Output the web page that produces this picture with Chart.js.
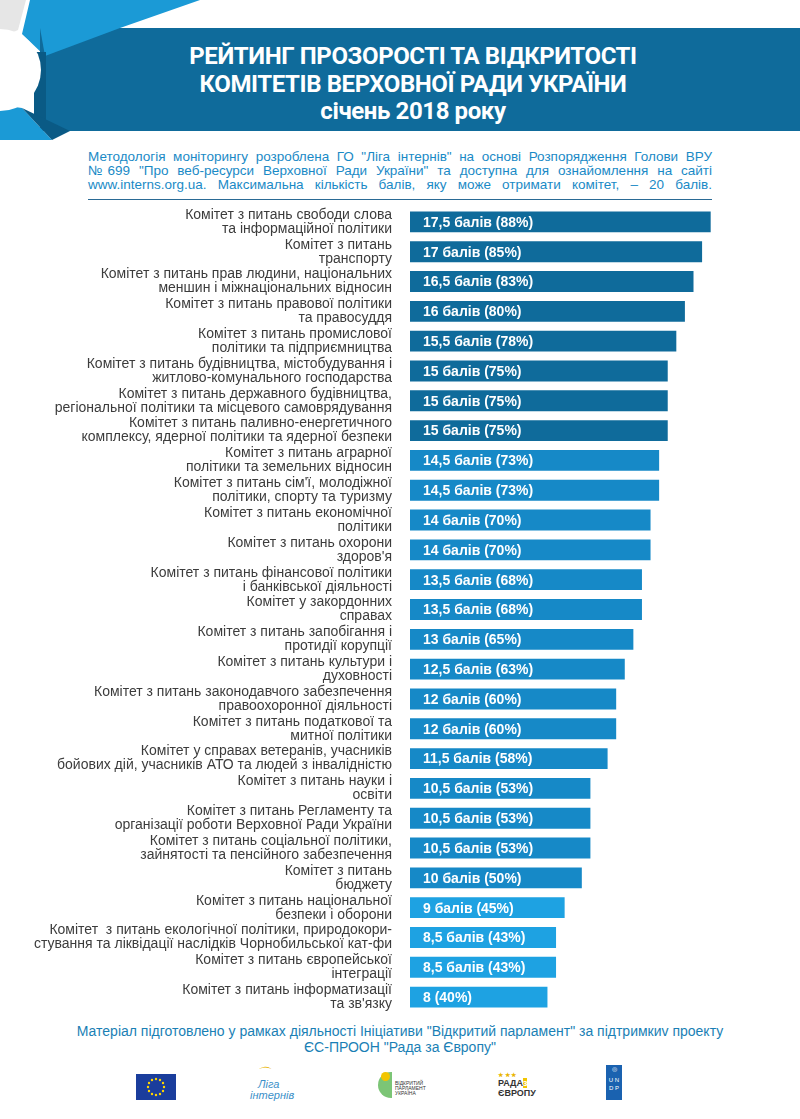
<!DOCTYPE html>
<html>
<head>
<meta charset="utf-8">
<script src="https://cdn.jsdelivr.net/npm/chart.js@4"></script>
<style>
  body { margin: 0; background: #fff; width: 800px; height: 1119px; position: relative; overflow: hidden; font-family: "Liberation Sans", sans-serif; }
  #header { position: absolute; left: 0; top: 0; }
  .title { position: absolute; left: 13px; width: 800px; text-align: center; color: #fff; font-family: Roboto, sans-serif; font-weight: 700; font-size: 24px; letter-spacing: -0.4px; }
  #intro { position: absolute; left: 88px; top: 150px; width: 624px; color: #1a8ac6; font-size: 13.5px; line-height: 14px; }
  #intro div { text-align: justify; text-align-last: justify; white-space: nowrap; }
  #rule { position: absolute; left: 88px; top: 199px; width: 624px; height: 1px; background: #2a6a95; }
  #wrap { position: absolute; left: 0; top: 200px; width: 800px; height: 820px; }
  #foot { position: absolute; left: 0; top: 1023px; width: 800px; text-align: center; color: #1a7fb5; font-size: 14px; line-height: 16px; }
  .logo { position: absolute; }
</style>
</head>
<body>
<svg id="header" width="800" height="145">
  <rect x="0" y="0" width="800" height="145" fill="#fff"/>
  <polygon points="0,0 26,0 18,30 0,38" fill="#e6e6e6"/>
  <polygon points="30,0 200,0 120,28 45,56 22,34" fill="#1b9ad6"/>
  <rect x="40" y="28" width="760" height="103" fill="#0f6b9b"/>
  <polygon points="40,28 120,28 45,56" fill="#1b9ad6"/>
  <polygon points="34,52 46,52 46,131 34,120" fill="#0a5a85"/>
  <polygon points="0,105 22,108 52,140 0,140" fill="#1b9ad6"/>
  <polygon points="22,108 70,131 52,140" fill="#0a5a85"/>
  <circle cx="0" cy="70" r="41" fill="#fff"/>
</svg>
<div class="title" style="top:42px">РЕЙТИНГ ПРОЗОРОСТІ ТА ВІДКРИТОСТІ</div>
<div class="title" style="top:70px">КОМІТЕТІВ ВЕРХОВНОЇ РАДИ УКРАЇНИ</div>
<div class="title" style="top:97px">січень 2018 року</div>
<div id="intro">
  <div>Методологія моніторингу розроблена ГО "Ліга інтернів" на основі Розпорядження Голови ВРУ</div>
  <div>№699 "Про веб-ресурси Верховної Ради України" та доступна для ознайомлення на сайті</div>
  <div>www.interns.org.ua. Максимальна кількість балів, яку може отримати комітет, – 20 балів.</div>
</div>
<div id="rule"></div>
<div id="wrap"><canvas id="chart"></canvas></div>
<div id="foot">Матеріал підготовлено у рамках діяльності Ініціативи "Відкритий парламент" за підтримкиv проекту<br>ЄС-ПРООН "Рада за Європу"</div>

<svg class="logo" style="left:136px;top:1074px" width="40" height="26">
  <rect width="40" height="26" fill="#1a3d9c"/>
  <g fill="#ffd700">
    <circle cx="20" cy="5" r="1.2"/><circle cx="24" cy="6" r="1.2"/><circle cx="27" cy="9" r="1.2"/><circle cx="28" cy="13" r="1.2"/>
    <circle cx="27" cy="17" r="1.2"/><circle cx="24" cy="20" r="1.2"/><circle cx="20" cy="21" r="1.2"/><circle cx="16" cy="20" r="1.2"/>
    <circle cx="13" cy="17" r="1.2"/><circle cx="12" cy="13" r="1.2"/><circle cx="13" cy="9" r="1.2"/><circle cx="16" cy="6" r="1.2"/>
  </g>
</svg>
<div class="logo" style="left:250px;top:1068px;width:50px;height:34px;font-size:11px;color:#3a8fc8;font-style:italic;line-height:11px">
  <div style="color:#e9b500;font-size:14px;margin-left:6px">⌒</div>
  <div style="margin-left:8px">Ліга</div><div>інтернів</div>
</div>
<div class="logo" style="left:378px;top:1072px;width:48px;height:30px">
  <div style="position:absolute;left:0;top:0;width:14px;height:26px;border-radius:14px 0 0 14px;background:#7cc576"></div>
  <div style="position:absolute;left:3px;top:0;width:9px;height:9px;border-radius:5px;background:#f2c500"></div>
  <div style="position:absolute;left:17px;top:9px;font-size:5px;line-height:5px;color:#333">ВІДКРИТИЙ<br>ПАРЛАМЕНТ<br>УКРАЇНА</div>
</div>
<div class="logo" style="left:498px;top:1072px;width:38px;height:30px;font-size:9px;line-height:10px;color:#333;font-weight:bold">
  <div style="color:#e9b500;font-size:6px;line-height:6px">★ ★ ★</div>
  РАДА<span style="background:#f2c500;color:#fff">з</span><br>ЄВРОПУ
</div>
<div class="logo" style="left:606px;top:1065px;width:16px;height:35px;background:#1a62b0;color:#fff;font-size:6px;line-height:8px;text-align:center">
  <div style="height:11px">◎</div>U N<br>D P
</div>

<script>
const committees = [
  ['Комітет з питань свободи слова', 'та інформаційної політики'],
  ['Комітет з питань', 'транспорту'],
  ['Комітет з питань прав людини, національних', 'меншин і міжнаціональних відносин'],
  ['Комітет з питань правової політики', 'та правосуддя'],
  ['Комітет з питань промислової', 'політики та підприємництва'],
  ['Комітет з питань будівництва, містобудування і', 'житлово-комунального господарства'],
  ['Комітет з питань державного будівництва,', 'регіональної політики та місцевого самоврядування'],
  ['Комітет з питань паливно-енергетичного', 'комплексу, ядерної політики та ядерної безпеки'],
  ['Комітет з питань аграрної', 'політики та земельних відносин'],
  ["Комітет з питань сім'ї, молодіжної", 'політики, спорту та туризму'],
  ['Комітет з питань економічної', 'політики'],
  ['Комітет з питань охорони', "здоров'я"],
  ['Комітет з питань фінансової політики', 'і банківської діяльності'],
  ['Комітет у закордонних', 'справах'],
  ['Комітет з питань запобігання і', 'протидії корупції'],
  ['Комітет з питань культури і', 'духовності'],
  ['Комітет з питань законодавчого забезпечення', 'правоохоронної діяльності'],
  ['Комітет з питань податкової та', 'митної політики'],
  ['Комітет у справах ветеранів, учасників', 'бойових дій, учасників АТО та людей з інвалідністю'],
  ['Комітет з питань науки і', 'освіти'],
  ['Комітет з питань Регламенту та', 'організації роботи Верховної Ради України'],
  ['Комітет з питань соціальної політики,', 'зайнятості та пенсійного забезпечення'],
  ['Комітет з питань', 'бюджету'],
  ['Комітет з питань національної', 'безпеки і оборони'],
  ['Комітет  з питань екологічної політики, природокори-', 'стування та ліквідації наслідків Чорнобильської кат-фи'],
  ['Комітет з питань європейської', 'інтеграції'],
  ['Комітет з питань інформатизації', "та зв'язку"]
];

const scores = [17.5, 17, 16.5, 16, 15.5, 15, 15, 15, 14.5, 14.5, 14, 14, 13.5, 13.5, 13,
  12.5, 12, 12, 11.5, 10.5, 10.5, 10.5, 10, 9, 8.5, 8.5, 8];

const scoreLabels = ['17,5 балів (88%)', '17 балів (85%)', '16,5 балів (83%)', '16 балів (80%)',
  '15,5 балів (78%)', '15 балів (75%)', '15 балів (75%)', '15 балів (75%)', '14,5 балів (73%)',
  '14,5 балів (73%)', '14 балів (70%)', '14 балів (70%)', '13,5 балів (68%)', '13,5 балів (68%)',
  '13 балів (65%)', '12,5 балів (63%)', '12 балів (60%)', '12 балів (60%)', '11,5 балів (58%)',
  '10,5 балів (53%)', '10,5 балів (53%)', '10,5 балів (53%)', '10 балів (50%)', '9 балів (45%)',
  '8,5 балів (43%)', '8,5 балів (43%)', '8 (40%)'];

const maxScore = 22;

function barColor(i) {
  if (i < 8) return '#0f6b9b';
  if (i < 23) return '#1689c7';
  return '#1ea2e2';
}

// white text inside each bar
const barText = {
  id: 'barText',
  afterDatasetsDraw(chart) {
    const c = chart.ctx;
    const meta = chart.getDatasetMeta(0);
    c.save();
    c.fillStyle = '#fff';
    c.font = 'bold 14px "Liberation Sans", sans-serif';
    c.textBaseline = 'middle';
    meta.data.forEach((bar, i) => {
      c.fillText(scoreLabels[i], bar.base + 13, bar.y + 1);
    });
    c.restore();
  }
};

new Chart(document.getElementById('chart'), {
  type: 'bar',
  data: {
    labels: committees,
    datasets: [{
      data: scores,
      backgroundColor: ctx => barColor(ctx.dataIndex),
      barPercentage: 0.7,
      categoryPercentage: 1
    }]
  },
  options: {
    indexAxis: 'y',
    responsive: true,
    maintainAspectRatio: false,
    animation: false,
    layout: { padding: { top: 7, bottom: 8, right: 12 } },
    plugins: { legend: { display: false }, tooltip: { enabled: false } },
    scales: {
      x: { display: false, min: 0, max: maxScore },
      y: {
        grid: { display: false, drawTicks: false },
        border: { display: false },
        afterFit(scale) {
          scale.width = 410;
          scale.paddingTop = 0;
          scale.paddingBottom = 0;
        },
        ticks: {
          autoSkip: false,
          padding: 18,
          color: '#3c3c3c',
          font: { family: '"Liberation Sans", sans-serif', size: 14, lineHeight: 1.0 }
        }
      }
    }
  },
  plugins: [barText]
});
</script>
</body>
</html>
